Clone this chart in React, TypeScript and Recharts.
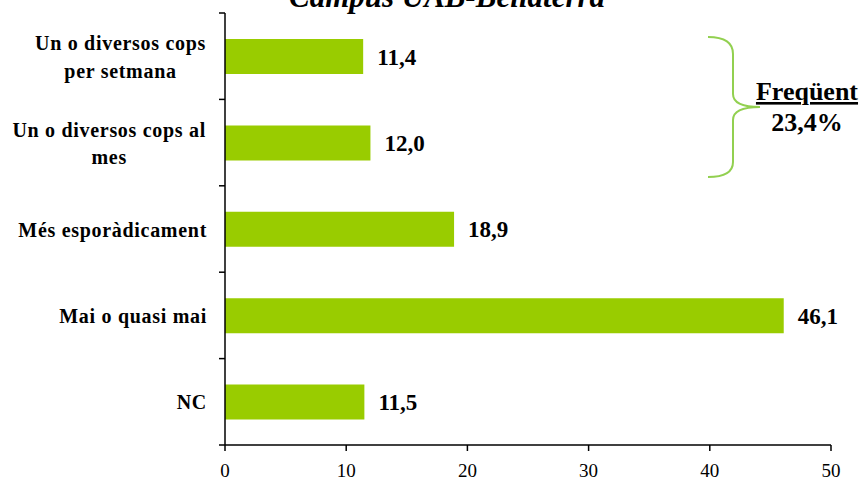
import { BarChart, Bar, XAxis, YAxis, LabelList } from "recharts";

const categories = [
  "Un o diversos cops per setmana",
  "Un o diversos cops al mes",
  "Més esporàdicament",
  "Mai o quasi mai",
  "NC",
];
const categoryLines = [
  ["Un o diversos cops", "per setmana"],
  ["Un o diversos cops al", "mes"],
  ["Més esporàdicament"],
  ["Mai o quasi mai"],
  ["NC"],
];
const percents = [11.4, 12.0, 18.9, 46.1, 11.5];
const xTicks = [0, 10, 20, 30, 40, 50];
// rows grouped under the "Freqüent" brace
const frequentRows = [0, 1];

const title = "Campus UAB-Bellaterra";
const frequentLabel = "Freqüent";

const SERIF = '"Liberation Serif", "Times New Roman", serif';
const BAR_GREEN = "#99CC00";
const BRACE_GREEN = "#92D050";

const data = categories.map((name, i) => ({ name, value: percents[i] }));

const fmt = (v: number) => v.toFixed(1).replace(".", ",");
const frequentTotal = frequentRows.reduce((s, i) => s + percents[i], 0);

let ctx: CanvasRenderingContext2D | null = null;
function textWidth(s: string, font: string, spacing: number) {
  if (!ctx) ctx = document.createElement("canvas").getContext("2d");
  if (!ctx) return s.length * 10;
  ctx.font = font;
  return ctx.measureText(s).width + spacing * s.length;
}

// category label plus the small tick marks that sit between the bands
function CategoryTick(props: any) {
  const { y, payload, index, height, visibleTicksCount } = props;
  const count = visibleTicksCount || categories.length;
  const half = (height || 432) / count / 2;
  const axisX = 225;
  const lines = categoryLines[payload.index] ?? [String(payload.value)];
  const style = {
    fontFamily: SERIF,
    fontWeight: 700,
    fontSize: 20,
    letterSpacing: 0.7,
    fill: "#000",
  };
  const marks = [y - half];
  if (index === count - 1) marks.push(y + half);
  const tickMarks = marks.map((ty, i) => (
    <line key={i} x1={axisX - 6} x2={axisX} y1={ty} y2={ty} stroke="#000" strokeWidth={1.5} />
  ));
  if (lines.length === 1) {
    return (
      <g>
        {tickMarks}
        <text x={207} y={y + 7.5} textAnchor="end" style={style}>
          {lines[0]}
        </text>
      </g>
    );
  }
  // wrapped labels: lines centred on each other, block right-aligned
  const w = Math.max(
    ...lines.map((l) => textWidth(l, `bold 20px ${SERIF}`, 0.7))
  );
  const cx = 206 - w / 2;
  return (
    <g>
      {tickMarks}
      <text textAnchor="middle" style={style}>
        {lines.map((l, i) => (
          <tspan key={i} x={cx} y={y - 6 + i * 27.5}>
            {l}
          </tspan>
        ))}
      </text>
    </g>
  );
}

export default function App() {
  return (
    <div style={{ position: "absolute", left: 0, top: 0, width: 864, height: 485 }}>
      <BarChart
        width={864}
        height={485}
        layout="vertical"
        data={data}
        margin={{ top: 13, right: 33, bottom: 0, left: 0 }}
        barSize={35}
      >
        <YAxis
          type="category"
          dataKey="name"
          width={225}
          interval={0}
          axisLine={{ stroke: "#000", strokeWidth: 1.5 }}
          tickLine={false}
          tick={<CategoryTick />}
        />
        <XAxis
          type="number"
          domain={[0, 50]}
          ticks={xTicks}
          height={40}
          tickSize={6}
          tickMargin={13}
          axisLine={{ stroke: "#000", strokeWidth: 1.5 }}
          tickLine={{ stroke: "#000", strokeWidth: 1.5 }}
          tick={{ fontFamily: SERIF, fontSize: 19, fill: "#000" }}
        />
        <Bar dataKey="value" fill={BAR_GREEN} isAnimationActive={false}>
          <LabelList
            dataKey="value"
            position="right"
            offset={14}
            formatter={(v: any) => fmt(Number(v))}
            style={{ fontFamily: SERIF, fontWeight: 700, fontSize: 23, fill: "#000" }}
          />
        </Bar>
      </BarChart>
      <svg
        width={864}
        height={485}
        style={{ position: "absolute", left: 0, top: 0, pointerEvents: "none" }}
      >
        <text
          x={447}
          y={7}
          textAnchor="middle"
          style={{ fontFamily: SERIF, fontWeight: 700, fontStyle: "italic", fontSize: 31 }}
        >
          {title}
        </text>
        <path
          d="M708,37 C724,37 733,42 733,54 L733,94 C733,103 742,107 760,107 C742,107 733,111 733,120 L733,162 C733,172 724,177 708,177"
          fill="none"
          stroke={BRACE_GREEN}
          strokeWidth={2}
        />
        <text
          x={807}
          y={100}
          textAnchor="middle"
          textDecoration="underline"
          style={{ fontFamily: SERIF, fontWeight: 700, fontSize: 26, textDecoration: "underline" }}
        >
          {frequentLabel}
        </text>
        <text
          x={807}
          y={131}
          textAnchor="middle"
          style={{ fontFamily: SERIF, fontWeight: 700, fontSize: 26 }}
        >
          {fmt(frequentTotal) + "%"}
        </text>
      </svg>
    </div>
  );
}
